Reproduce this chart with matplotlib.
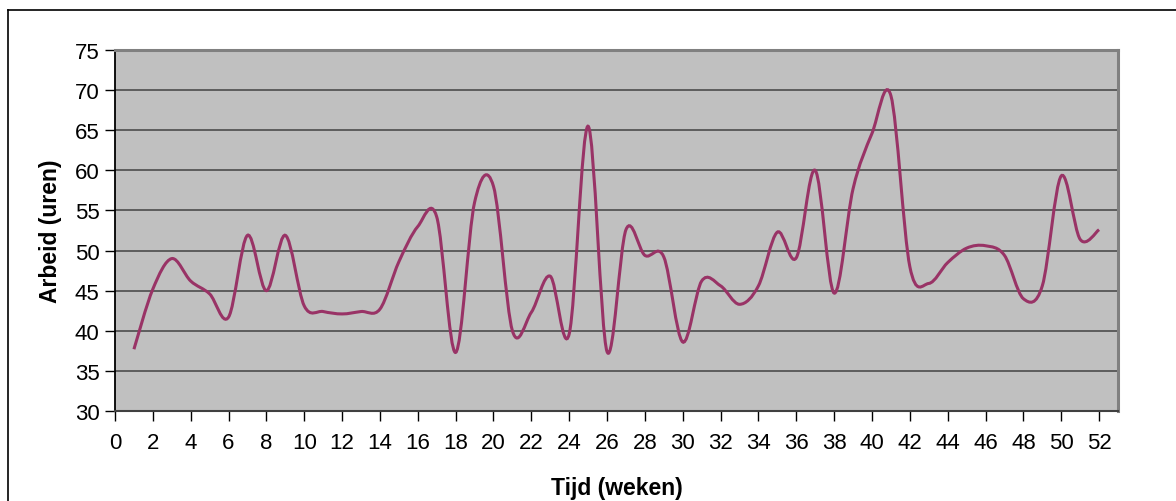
import numpy as np
import matplotlib.pyplot as plt
from matplotlib.path import Path
from matplotlib.patches import PathPatch
from matplotlib.lines import Line2D

plt.rcParams['font.family'] = ['Liberation Sans', 'DejaVu Sans']

weeks = list(range(1, 53))
hours = [37.7, 45.2, 49.0, 46.2, 44.6, 41.7, 51.9, 45.0, 51.9, 43.1,
         42.4, 42.1, 42.4, 42.7, 48.6, 53.0, 54.2, 37.3, 56.0, 58.0,
         40.0, 42.3, 46.8, 39.6, 65.5, 37.4, 52.6, 49.4, 49.2, 38.6,
         46.2, 45.6, 43.3, 45.6, 52.3, 49.1, 60.0, 44.7, 57.7, 64.6,
         69.3, 48.0, 45.9, 48.5, 50.3, 50.6, 49.4, 44.0, 45.6, 59.3,
         51.4, 52.6]
x_ticks = list(range(0, 53, 2))
y_ticks = list(range(30, 76, 5))


def smooth_path(xs, ys):
    # excel style smoothed line: cubic bezier segments through every point
    pts = np.column_stack((xs, ys)).astype(float)
    n = len(pts)
    verts = [pts[0]]
    codes = [Path.MOVETO]
    for i in range(n - 1):
        p0 = pts[i - 1] if i > 0 else pts[i]
        p1 = pts[i]
        p2 = pts[i + 1]
        p3 = pts[i + 2] if i + 2 < n else pts[i + 1]
        c1 = p1 + (p2 - p0) / 6.0
        c2 = p2 - (p3 - p1) / 6.0
        verts += [c1, c2, p2]
        codes += [Path.CURVE4] * 3
    return Path(verts, codes)


fig = plt.figure(figsize=(11.76, 5.02), dpi=100)
ax = fig.add_axes([115 / 1176, 90 / 502, 1003 / 1176, 361 / 502])
ax.set_facecolor('#c0c0c0')

ax.add_patch(PathPatch(smooth_path(weeks, hours), fill=False,
                       edgecolor='#993366', lw=2.2, zorder=3))

ax.set_xlim(0, 53)
ax.set_ylim(30, 75)
ax.set_xticks(x_ticks)
ax.set_yticks(y_ticks)
ax.yaxis.grid(True, color='#555555', lw=1.3)
ax.set_axisbelow(True)

for s in ['top', 'right']:
    ax.spines[s].set_color('#808080')
    ax.spines[s].set_linewidth(2.2)
ax.spines['left'].set_color('black')
ax.spines['left'].set_linewidth(1.3)
ax.spines['bottom'].set_color('#404040')
ax.spines['bottom'].set_linewidth(1.5)

ax.tick_params(axis='both', direction='out', length=7, width=1,
               labelsize=16, color='black', pad=4)
ax.tick_params(axis='x', pad=8)

ax.set_xlabel('Tijd (weken)', fontsize=16.5, fontweight='bold', labelpad=17)
ax.set_ylabel('Arbeid (uren)', fontsize=16.5, fontweight='bold', labelpad=9)

# chart border (top and left edges are visible in the picture)
fig.add_artist(Line2D([8 / 1176, 8 / 1176], [0, 1 - 11 / 502],
                      transform=fig.transFigure, color='black', lw=1.2))
fig.add_artist(Line2D([8 / 1176, 1], [1 - 11 / 502, 1 - 11 / 502],
                      transform=fig.transFigure, color='black', lw=1.2))

fig.savefig('out.png', dpi=100)
